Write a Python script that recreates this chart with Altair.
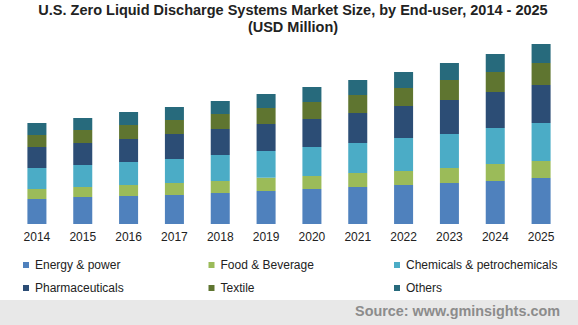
import altair as alt
import pandas as pd

years = ["2014", "2015", "2016", "2017", "2018", "2019",
         "2020", "2021", "2022", "2023", "2024", "2025"]
segments = ["Energy & power", "Food & Beverage", "Chemicals & petrochemicals",
            "Pharmaceuticals", "Textile", "Others"]
energy = [25, 27, 28, 29, 31, 33, 35, 37, 39, 41, 43, 46]
food = [10, 10, 11, 12, 12, 13.3, 13, 14, 14, 15, 17, 17]
chem = [21, 22, 23, 24, 26, 26.7, 29, 30, 33, 34, 36, 38]
pharma = [21, 22, 23, 25, 26, 27, 28, 30, 32, 34, 36, 38]
textile = [12, 13, 14, 14, 15, 16, 17, 18, 18, 20, 20, 22]
others = [12, 12, 13, 13, 13, 14, 15, 15, 16, 17, 18, 19]
colors = ["#4f81bd", "#9bbb59", "#4bacc6", "#2c4d75", "#5f7530", "#276a7c"]
source_text = "Source: www.gminsights.com"

series = [energy, food, chem, pharma, textile, others]
rows = []
for si, (name, vals) in enumerate(zip(segments, series)):
    for y, v in zip(years, vals):
        rows.append({"year": y, "segment": name, "value": v, "idx": si})
df = pd.DataFrame(rows)

W, H = 550, 184

bars = alt.Chart(df).mark_bar().encode(
    x=alt.X("year:N", title=None,
            scale=alt.Scale(paddingInner=0.585, paddingOuter=0.2925),
            axis=alt.Axis(labelAngle=0, domain=False, ticks=False,
                          labelFontSize=12, labelColor="#222",
                          labelFont="Liberation Sans", labelPadding=7)),
    y=alt.Y("value:Q", stack="zero", title=None,
            scale=alt.Scale(domain=[0, 184], nice=False),
            axis=None),
    color=alt.Color("segment:N", scale=alt.Scale(domain=segments, range=colors),
                    legend=alt.Legend(title=None, orient="none", legendX=6, legendY=219,
                                      direction="horizontal",
                                      columns=3, gridAlign="all", columnPadding=18.5,
                                      rowPadding=11, symbolType="square", symbolSize=36,
                                      symbolStrokeWidth=0, labelFontSize=12,
                                      labelFont="Liberation Sans", labelColor="#222",
                                      labelOffset=3, labelLimit=300)),
    order=alt.Order("idx:Q", sort="ascending"),
)

band = alt.Chart(pd.DataFrame({"a": [0]})).mark_rect(color="#e8e8e8").encode(
    x=alt.value(-14), x2=alt.value(564), y=alt.value(260), y2=alt.value(285)
)

src = alt.Chart(pd.DataFrame({"t": [source_text]})).mark_text(
    align="right", baseline="middle", fontSize=14.4, fontWeight="bold",
    color="#8c8c8c", font="Liberation Sans"
).encode(x=alt.value(546), y=alt.value(271.5), text="t:N")

chart = alt.layer(band, bars, src).properties(
    width=W, height=H,
    title=alt.Title(["U.S. Zero Liquid Discharge Systems Market Size, by End-user, 2014 - 2025",
                     "(USD Million)"],
                    font="Liberation Sans", fontSize=14.5, fontWeight="bold",
                    color="#222", anchor="middle", offset=5, lineHeight=17, dx=4),
    padding={"left": 14, "top": 40, "right": 14, "bottom": 101},
    autosize=alt.AutoSizeParams(type="none"),
    background="white",
).configure_view(stroke=None)

chart.save("out.html", embed_options={"renderer": "svg", "actions": False})
